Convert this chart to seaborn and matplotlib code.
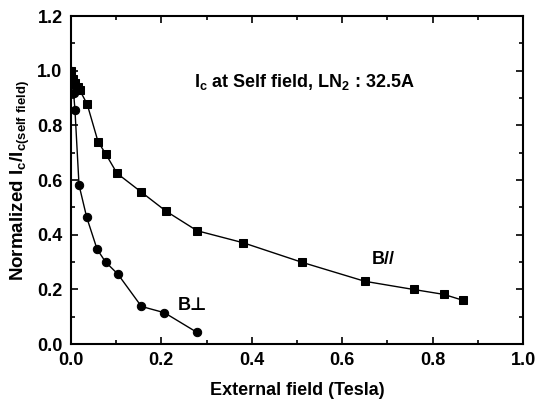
import numpy as np
import pandas as pd
import matplotlib
matplotlib.use("Agg")
import matplotlib.pyplot as plt
import seaborn as sns

# ---- data ----
par_field = [0.0, 0.004, 0.009, 0.015, 0.020, 0.036, 0.060, 0.077, 0.102, 0.156,
             0.210, 0.279, 0.381, 0.512, 0.650, 0.758, 0.825, 0.868]
par_ic = [1.0, 0.97, 0.955, 0.94, 0.928, 0.878, 0.741, 0.696, 0.625, 0.556,
          0.487, 0.415, 0.371, 0.299, 0.230, 0.200, 0.182, 0.160]

perp_field = [0.0, 0.003, 0.006, 0.009, 0.018, 0.035, 0.058, 0.077, 0.104,
              0.156, 0.207, 0.279]
perp_ic = [1.0, 0.95, 0.92, 0.857, 0.582, 0.464, 0.347, 0.300, 0.256,
           0.138, 0.115, 0.043]

sns.set_theme(style="ticks")
plt.rcParams['font.family'] = ['Liberation Sans', 'DejaVu Sans']
plt.rcParams['font.weight'] = 'bold'
plt.rcParams['axes.labelweight'] = 'bold'
plt.rcParams['text.color'] = 'black'
plt.rcParams['axes.labelcolor'] = 'black'
plt.rcParams['xtick.color'] = 'black'
plt.rcParams['ytick.color'] = 'black'
plt.rcParams['mathtext.fontset'] = 'custom'
plt.rcParams['mathtext.rm'] = 'Liberation Sans:bold'
plt.rcParams['mathtext.it'] = 'Liberation Sans:bold'
plt.rcParams['mathtext.bf'] = 'Liberation Sans:bold'

df_par = pd.DataFrame({'field': par_field, 'ic': par_ic})
df_perp = pd.DataFrame({'field': perp_field, 'ic': perp_ic})

fig = plt.figure(figsize=(5.37, 4.03), dpi=100)
ax = fig.add_axes([0.132, 0.146, 0.842, 0.814])

sns.lineplot(data=df_par, x='field', y='ic', ax=ax, color='black', lw=1.0,
             marker='s', markersize=5.5, markeredgecolor='black', sort=False)
sns.lineplot(data=df_perp, x='field', y='ic', ax=ax, color='black', lw=1.0,
             marker='o', markersize=6, markeredgecolor='black', sort=False)

ax.set_xlim(0, 1.0)
ax.set_ylim(0, 1.2)
ax.set_xticks(np.arange(0, 1.01, 0.2))
ax.set_yticks(np.arange(0, 1.21, 0.2))
ax.set_xticks(np.arange(0, 1.01, 0.1), minor=True)
ax.set_yticks(np.arange(0, 1.21, 0.1), minor=True)
ax.set_xticklabels([f"{v:.1f}" for v in np.arange(0, 1.01, 0.2)])
ax.set_yticklabels([f"{v:.1f}" for v in np.arange(0, 1.21, 0.2)])
ax.tick_params(which='both', direction='in', top=True, right=True, width=1.2,
               labelsize=13)
ax.tick_params(which='major', length=5, pad=6)
ax.tick_params(which='minor', length=3)
for s in ax.spines.values():
    s.set_linewidth(1.5)
    s.set_color('black')

ax.set_xlabel('External field (Tesla)', fontsize=13, labelpad=9)
ax.set_ylabel(r'Normalized I$_{c}$/I$_{c(self\ field)}$', fontsize=13.5, labelpad=4)

ax.text(0.272, 0.96, r'I$_c$ at Self field, LN$_2$ : 32.5A', fontsize=13,
        va='center', ha='left')
ax.text(0.69, 0.31, 'B//', fontsize=13, va='center', ha='center')
ax.text(0.268, 0.143, 'B\u22a5', fontsize=13, va='center', ha='center')

fig.savefig('out.png', dpi=100)
